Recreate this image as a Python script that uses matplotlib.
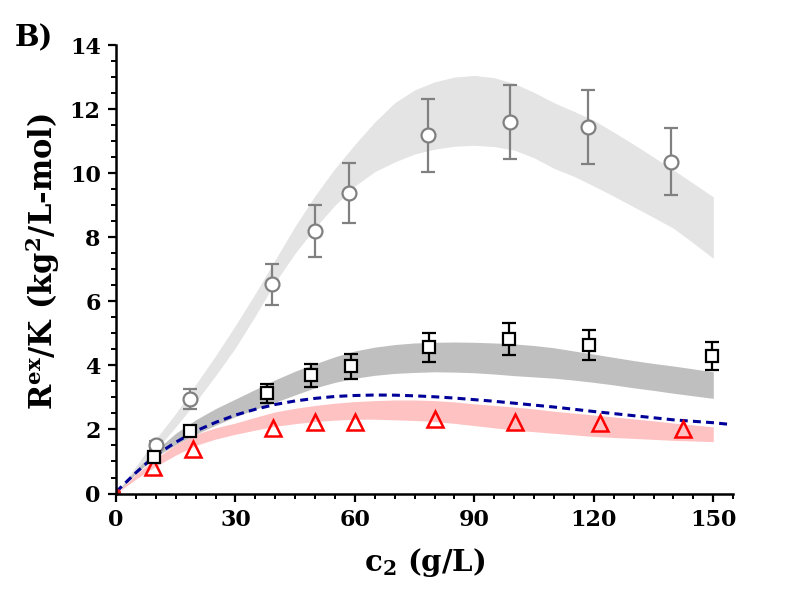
import matplotlib
matplotlib.use("Agg")
import matplotlib.pyplot as plt
from matplotlib.ticker import MultipleLocator

plt.rcParams['font.family'] = ['DejaVu Serif']
plt.rcParams['font.weight'] = 'bold'
plt.rcParams['mathtext.fontset'] = 'custom'
plt.rcParams['mathtext.rm'] = 'DejaVu Serif:bold'
plt.rcParams['mathtext.it'] = 'DejaVu Serif:bold'
plt.rcParams['mathtext.bf'] = 'DejaVu Serif:bold'

# ---- data ----
circ_x = [10, 18.6, 39.3, 50.0, 58.5, 78.3, 99.0, 118.6, 139.4]
circ_y = [1.52, 2.95, 6.53, 8.2, 9.38, 11.18, 11.6, 11.44, 10.36]
circ_err = [0.12, 0.3, 0.65, 0.82, 0.93, 1.13, 1.16, 1.15, 1.04]

sq_x = [9.6, 18.7, 38.0, 48.9, 58.9, 78.6, 98.6, 118.7, 149.8]
sq_y = [1.14, 1.95, 3.13, 3.69, 3.97, 4.56, 4.82, 4.65, 4.3]
sq_err = [0.1, 0.1, 0.3, 0.36, 0.4, 0.46, 0.5, 0.47, 0.43]

tri_x = [9.4, 19.3, 39.5, 50.0, 59.9, 80.2, 100.2, 121.6, 142.4]
tri_y = [0.82, 1.39, 2.04, 2.24, 2.24, 2.32, 2.24, 2.2, 2.02]

band_x = [0, 5, 10, 15, 20, 25, 30, 35, 40, 45, 50, 55, 60, 65, 70, 75,
          80, 85, 90, 95, 100, 105, 110, 115, 120, 125, 130, 135, 140, 145, 150]
light_hi = [0.0, 0.85, 1.7, 2.5, 3.4, 4.3, 5.25, 6.25, 7.3, 8.35, 9.3, 10.15, 10.9, 11.6, 12.2, 12.6,
            12.85, 13.0, 13.05, 12.98, 12.8, 12.52, 12.2, 11.93, 11.65, 11.28, 10.9, 10.5, 10.1, 9.68, 9.26]
light_lo = [0.0, 0.68, 1.35, 2.08, 2.85, 3.68, 4.55, 5.55, 6.6, 7.5, 8.3, 9.0, 9.6, 10.05, 10.35, 10.6,
            10.75, 10.84, 10.87, 10.83, 10.72, 10.48, 10.15, 9.9, 9.6, 9.28, 8.95, 8.62, 8.28, 7.82, 7.34]
dark_hi = [0.0, 0.75, 1.35, 1.88, 2.3, 2.65, 2.95, 3.25, 3.55, 3.82, 4.05, 4.27, 4.45, 4.57, 4.65, 4.7,
           4.72, 4.73, 4.72, 4.7, 4.67, 4.62, 4.55, 4.45, 4.35, 4.25, 4.15, 4.06, 3.98, 3.89, 3.8]
dark_lo = [0.0, 0.62, 1.15, 1.52, 1.85, 2.13, 2.4, 2.63, 2.85, 3.08, 3.3, 3.47, 3.6, 3.69, 3.75, 3.78,
           3.8, 3.79, 3.77, 3.73, 3.68, 3.64, 3.6, 3.54, 3.47, 3.39, 3.3, 3.22, 3.13, 3.05, 2.97]
pink_hi = [0.0, 0.6, 1.1, 1.52, 1.85, 2.05, 2.2, 2.38, 2.55, 2.66, 2.75, 2.82, 2.87, 2.9, 2.92, 2.92,
           2.9, 2.86, 2.8, 2.75, 2.7, 2.64, 2.57, 2.51, 2.45, 2.39, 2.33, 2.27, 2.2, 2.14, 2.08]
pink_lo = [0.0, 0.45, 0.85, 1.2, 1.5, 1.7, 1.85, 1.98, 2.1, 2.18, 2.25, 2.29, 2.32, 2.32, 2.3, 2.28,
           2.25, 2.19, 2.12, 2.05, 1.98, 1.93, 1.88, 1.83, 1.78, 1.75, 1.72, 1.69, 1.66, 1.64, 1.62]

dash_x = [0, 5, 10, 15, 20, 25, 30, 35, 40, 45, 50, 55, 60, 65, 70, 75, 80, 85, 90, 95,
          100, 110, 120, 130, 140, 150, 154]
dash_y = [0.05, 0.65, 1.2, 1.6, 1.95, 2.22, 2.45, 2.63, 2.78, 2.89, 2.97, 3.03, 3.06, 3.075, 3.07, 3.05,
          3.02, 2.98, 2.93, 2.88, 2.82, 2.7, 2.56, 2.43, 2.3, 2.21, 2.16]

x_ticks = [0, 30, 60, 90, 120, 150]
y_ticks = [0, 2, 4, 6, 8, 10, 12, 14]

# ---- figure ----
fig = plt.figure(figsize=(8.0, 6.06), dpi=100)
ax = fig.add_axes([0.145, 0.1856, 0.7715, 0.7401])

ax.fill_between(band_x, light_lo, light_hi, color='#e4e4e4', lw=0, zorder=1)
ax.fill_between(band_x, dark_lo, dark_hi, color='#bfbfbf', lw=0, zorder=2)
ax.fill_between(band_x, pink_lo, pink_hi, color='#ffc2c2', lw=0, zorder=2)

ax.plot(dash_x, dash_y, color='#000099', lw=2.2, ls=(0, (2.6, 1.7)), zorder=4)

ax.errorbar(circ_x, circ_y, yerr=circ_err, fmt='o', color='#808080', mfc='white',
            mec='#808080', ms=10, mew=1.6, elinewidth=1.6, capsize=5, capthick=1.6, zorder=5)
ax.errorbar(sq_x, sq_y, yerr=sq_err, fmt='s', color='black', mfc='white',
            mec='black', ms=8.5, mew=1.6, elinewidth=1.6, capsize=5, capthick=1.6, zorder=6)
ax.plot(tri_x, tri_y, '^', color='#ff0000', mfc='none', mec='#ff0000', ms=12, mew=1.8, zorder=6)
ax.plot([0.3], [0.05], 'o', color='#e02020', ms=4, zorder=7)

ax.set_xlim(0, 155)
ax.set_ylim(0, 14)
ax.set_xticks(x_ticks)
ax.set_yticks(y_ticks)
ax.xaxis.set_minor_locator(MultipleLocator(5))
ax.yaxis.set_minor_locator(MultipleLocator(0.5))

for s in ['top', 'right']:
    ax.spines[s].set_visible(False)
for s in ['left', 'bottom']:
    ax.spines[s].set_linewidth(1.8)
    ax.spines[s].set_zorder(10)

ax.tick_params(which='major', direction='out', length=6, width=1.6, labelsize=16, pad=5)
ax.tick_params(which='minor', direction='out', length=3.5, width=1.4)
for lab in ax.get_xticklabels() + ax.get_yticklabels():
    lab.set_fontweight('bold')

ax.set_xlabel(r'c$_2$ (g/L)', fontsize=21, fontweight='bold')
ax.xaxis.set_label_coords(0.5, -0.118)
ax.set_ylabel(r'R$^{ex}$/K (kg$^{2}$/L-mol)', fontsize=22, fontweight='bold')
ax.yaxis.set_label_coords(-0.088, 0.518)

fig.text(0.018, 0.937, 'B)', fontsize=21, fontweight='bold', ha='left', va='center')

fig.savefig('out.png', dpi=100)
